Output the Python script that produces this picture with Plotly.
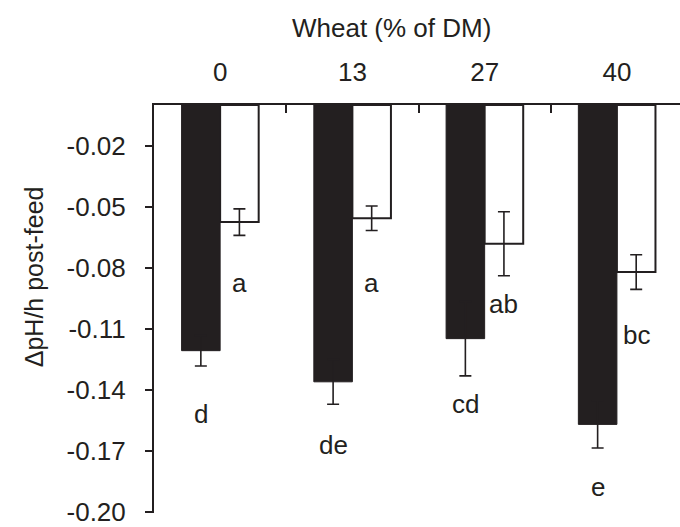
import plotly.graph_objects as go

categories = ["0", "13", "27", "40"]
black_vals = [-0.1206, -0.1359, -0.1147, -0.1568]
black_err = [0.0075, 0.011, 0.0183, 0.0116]
white_vals = [-0.0575, -0.0556, -0.0681, -0.0820]
white_err = [0.0065, 0.006, 0.0157, 0.0085]
black_letters = ["d", "de", "cd", "e"]
black_letter_y = [-0.1517, -0.1670, -0.1466, -0.1876]
white_letters = ["a", "a", "ab", "bc"]
white_letter_y = [-0.0873, -0.0873, -0.0978, -0.1129]
y_ticks = [-0.02, -0.05, -0.08, -0.11, -0.14, -0.17, -0.20]

INK = "#231f20"
FONT = "Liberation Sans, Arial, sans-serif"
FS = 26

fig = go.Figure()
fig.add_trace(go.Bar(
    x=categories, y=black_vals, marker=dict(color=INK, line=dict(color=INK, width=1)),
    error_y=dict(type="data", array=black_err, color=INK, thickness=1.6, width=6),
    showlegend=False))
fig.add_trace(go.Bar(
    x=categories, y=white_vals, marker=dict(color="white", line=dict(color=INK, width=2)),
    error_y=dict(type="data", array=white_err, color=INK, thickness=1.6, width=6),
    showlegend=False))

off = 0.146
anns = []
for i, (t, y) in enumerate(zip(black_letters, black_letter_y)):
    anns.append(dict(x=i - off, y=y, xref="x", yref="y", text=t, showarrow=False,
                     xanchor="center", yanchor="middle",
                     font=dict(family=FONT, size=FS, color=INK)))
for i, (t, y) in enumerate(zip(white_letters, white_letter_y)):
    anns.append(dict(x=i + off, y=y, xref="x", yref="y", text=t, showarrow=False,
                     xanchor="center", yanchor="middle",
                     font=dict(family=FONT, size=FS, color=INK)))
anns.append(dict(x=0.4506, y=1.188, xref="paper", yref="paper", text="Wheat (% of DM)",
                 xanchor="center", yanchor="middle",
                 showarrow=False, font=dict(family=FONT, size=FS, color=INK)))
anns.append(dict(x=-0.228, y=0.578, xref="paper", yref="paper", text="ΔpH/h post-feed",
                 xanchor="center", yanchor="middle",
                 textangle=-90, showarrow=False, font=dict(family=FONT, size=25, color=INK)))

fig.update_layout(
    width=680, height=527,
    margin=dict(l=154, r=0, t=105, b=12),
    paper_bgcolor="white", plot_bgcolor="white",
    barmode="group", bargap=0.417, bargroupgap=0,
    annotations=anns,
    font=dict(family=FONT, size=FS, color=INK),
)
fig.update_xaxes(
    type="category", side="top", range=[-0.5, 3.477],
    tickson="boundaries", ticks="inside", ticklen=8, tickwidth=1.6, tickcolor=INK,
    showline=True, linecolor=INK, linewidth=2, showgrid=False, zeroline=False,
    ticklabelstandoff=12, tickfont=dict(family=FONT, size=FS, color=INK),
)
fig.update_yaxes(
    range=[-0.2003, 0], tickvals=y_ticks, ticktext=[f"{v:.2f}" for v in y_ticks],
    ticks="outside", ticklen=7, tickwidth=1.6, tickcolor=INK,
    showline=True, linecolor=INK, linewidth=2, showgrid=False, zeroline=False,
    ticklabelstandoff=14, ticklabeloverflow="allow",
    tickfont=dict(family=FONT, size=FS, color=INK),
)

fig.write_html("out.html")
